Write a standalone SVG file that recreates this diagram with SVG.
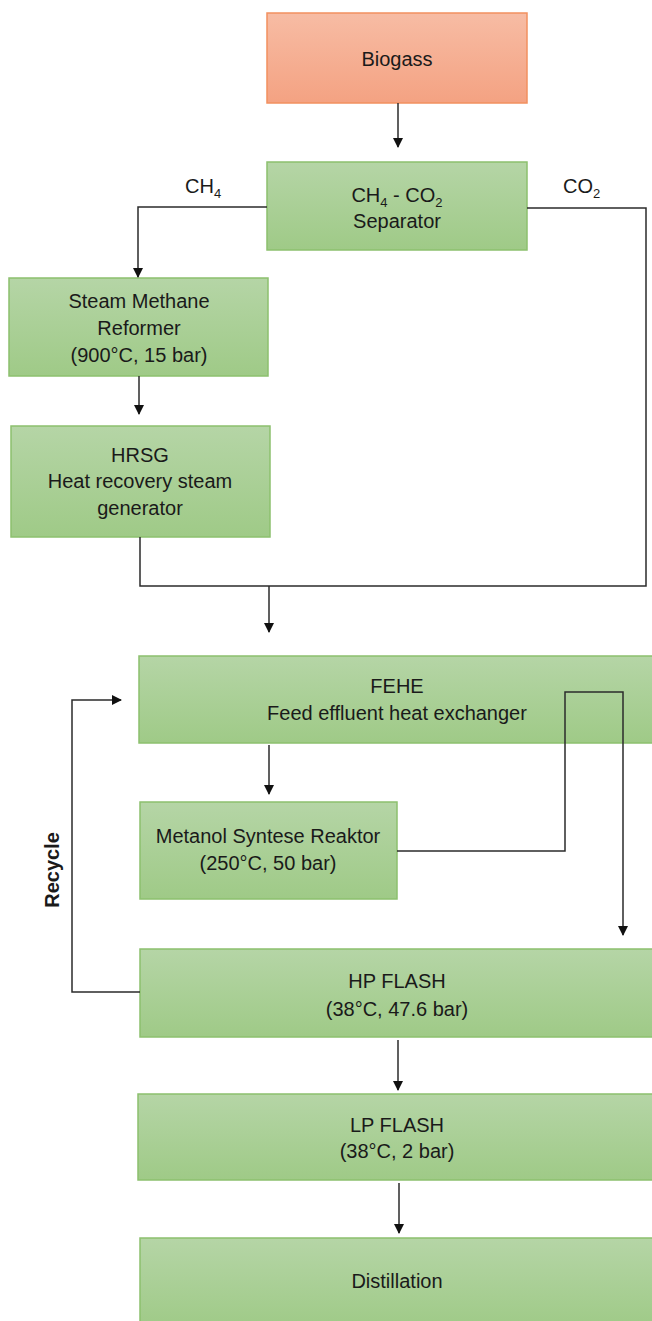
<svg xmlns="http://www.w3.org/2000/svg" width="652" height="1321" viewBox="0 0 652 1321">
<style>
  .g { fill: url(#gGreen); stroke: #8cc06e; stroke-width: 1.5; }
  .o { fill: url(#gOrange); stroke: #f2905f; stroke-width: 1.5; }
  text { font-family: "Liberation Sans", Arial, sans-serif; font-size: 20px; fill: #1a1a1a; text-anchor: middle; }
  .sub { font-size: 13px; }
  .c { fill: none; stroke: #2b2b2b; stroke-width: 1.5; }
  .lbl { text-anchor: start; }
</style>
<defs>
  <linearGradient id="gGreen" x1="0" y1="0" x2="0" y2="1">
    <stop offset="0" stop-color="#b5d5a6"/>
    <stop offset="1" stop-color="#9fca87"/>
  </linearGradient>
  <linearGradient id="gOrange" x1="0" y1="0" x2="0" y2="1">
    <stop offset="0" stop-color="#f7bca4"/>
    <stop offset="1" stop-color="#f4a282"/>
  </linearGradient>
  <marker id="arr" markerWidth="10" markerHeight="10" refX="9" refY="5" orient="auto" markerUnits="userSpaceOnUse">
    <path d="M0,0 L10,5 L0,10 Z" fill="#111"/>
  </marker>
</defs>

<g id="biogass">
  <rect class="o" x="267" y="13" width="260" height="90"/>
  <text x="397" y="66">Biogass</text>
</g>

<g id="separator">
  <rect class="g" x="267" y="162" width="260" height="88"/>
  <text x="397" y="202">CH<tspan class="sub" dy="5">4</tspan><tspan dy="-5"> - CO</tspan><tspan class="sub" dy="5">2</tspan></text>
  <text x="397" y="228">Separator</text>
</g>

<g id="smr">
  <rect class="g" x="9" y="278" width="259" height="98"/>
  <text x="139" y="308">Steam Methane</text>
  <text x="139" y="335">Reformer</text>
  <text x="139" y="362">(900°C, 15 bar)</text>
</g>

<g id="hrsg">
  <rect class="g" x="11" y="426" width="259" height="111"/>
  <text x="140" y="462">HRSG</text>
  <text x="140" y="488">Heat recovery steam</text>
  <text x="140" y="515">generator</text>
</g>

<g id="fehe">
  <rect class="g" x="139" y="656" width="520" height="87"/>
  <text x="397" y="693">FEHE</text>
  <text x="397" y="720">Feed effluent heat exchanger</text>
</g>

<g id="reactor">
  <rect class="g" x="140" y="802" width="257" height="97"/>
  <text x="268" y="843">Metanol Syntese Reaktor</text>
  <text x="268" y="870">(250°C, 50 bar)</text>
</g>

<g id="hpflash">
  <rect class="g" x="140" y="949" width="520" height="88"/>
  <text x="397" y="988">HP FLASH</text>
  <text x="397" y="1016">(38°C, 47.6 bar)</text>
</g>

<g id="lpflash">
  <rect class="g" x="138" y="1094" width="522" height="86"/>
  <text x="397" y="1132">LP FLASH</text>
  <text x="397" y="1158">(38°C, 2 bar)</text>
</g>

<g id="distillation">
  <rect class="g" x="140" y="1238" width="520" height="90"/>
  <text x="397" y="1288">Distillation</text>
</g>

<g id="connectors">
  <line class="c" x1="398" y1="103" x2="398" y2="147" marker-end="url(#arr)"/>
  <polyline class="c" points="267,207 138,207 138,277" marker-end="url(#arr)"/>
  <line class="c" x1="139" y1="376" x2="139" y2="414" marker-end="url(#arr)"/>
  <polyline class="c" points="527,208 646,208 646,586 140,586 140,537"/>
  <line class="c" x1="269" y1="586" x2="269" y2="632" marker-end="url(#arr)"/>
  <line class="c" x1="269" y1="745" x2="269" y2="794" marker-end="url(#arr)"/>
  <polyline class="c" points="397,851 565,851 565,692 623,692 623,935" marker-end="url(#arr)"/>
  <polyline class="c" points="140,992 72,992 72,700 121,700" marker-end="url(#arr)"/>
  <line class="c" x1="398" y1="1040" x2="398" y2="1090" marker-end="url(#arr)"/>
  <line class="c" x1="399" y1="1183" x2="399" y2="1233" marker-end="url(#arr)"/>
  <text class="lbl" x="185" y="193">CH<tspan class="sub" dy="5">4</tspan></text>
  <text class="lbl" x="563" y="193">CO<tspan class="sub" dy="5">2</tspan></text>
  <text x="0" y="0" font-weight="bold" font-size="19" transform="translate(59,870) rotate(-90)">Recycle</text>
</g>
</svg>
